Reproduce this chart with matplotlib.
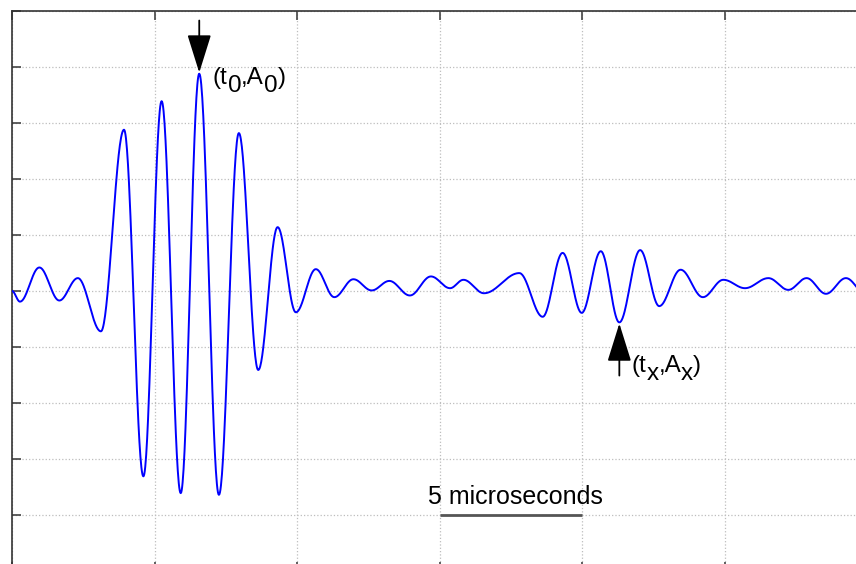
import numpy as np
import matplotlib
matplotlib.use("Agg")
import matplotlib.pyplot as plt
from matplotlib.transforms import offset_copy

plt.rcParams["font.family"] = ["Liberation Sans", "DejaVu Sans"]

# Received waveform: successive extrema (time in microseconds, amplitude)
t_ext = [0.00, 0.28, 0.96, 1.66, 2.31, 3.12, 3.93, 4.61, 5.25, 5.92,
         6.57, 7.26, 7.96, 8.64, 9.32, 9.96, 10.66, 11.31, 11.98, 12.62,
         13.24, 13.96, 14.70, 15.37, 15.84, 16.56, 17.80, 18.62, 19.32, 19.99,
         20.66, 21.31, 22.04, 22.71, 23.46, 24.24, 24.96, 25.72, 26.54, 27.24,
         27.88, 28.56, 29.26, 29.95]
a_ext = [0.00, -0.19, 0.42, -0.17, 0.23, -0.72, 2.88, -3.31, 3.39, -3.61,
         3.88, -3.64, 2.82, -1.41, 1.14, -0.38, 0.39, -0.11, 0.21, 0.01,
         0.18, -0.08, 0.26, 0.05, 0.20, -0.04, 0.32, -0.46, 0.68, -0.39,
         0.71, -0.56, 0.73, -0.27, 0.38, -0.11, 0.20, 0.05, 0.23, 0.02,
         0.23, -0.05, 0.23, -0.05]

# Marked echoes: main peak (t0, A0) and later trough (tx, Ax)
i_main = 10
i_echo = 31

# Scale bar
bar_start, bar_len, bar_level = 15.0, 5.0, -4.0
bar_label = "5 microseconds"

# Smooth half-cosine segments between consecutive extrema
t_ext_arr = np.asarray(t_ext)
a_ext_arr = np.asarray(a_ext)
seg_t, seg_a = [], []
s = np.linspace(0.0, 1.0, 40)
w = (1 - np.cos(np.pi * s)) / 2
for k in range(len(t_ext_arr) - 1):
    seg_t.append(t_ext_arr[k] + (t_ext_arr[k + 1] - t_ext_arr[k]) * s)
    seg_a.append(a_ext_arr[k] + (a_ext_arr[k + 1] - a_ext_arr[k]) * w)
t_curve = np.concatenate(seg_t)
a_curve = np.concatenate(seg_a)

fig = plt.figure(figsize=(8.56, 5.64), dpi=100)
ax = fig.add_axes([12 / 856, -7 / 564, 855 / 856, 560 / 564])

ax.plot(t_curve, a_curve, color=(0.0, 0.0, 1.0), lw=1.4, zorder=3)

ax.set_xlim(0, 30)
ax.set_ylim(-5, 5)
ax.set_xticks(np.arange(0, 31, 5))
ax.set_yticks(np.arange(-5, 6, 1))
ax.set_xticklabels([])
ax.set_yticklabels([])
ax.tick_params(direction="in", length=6.5, width=1.2, color="#444444",
               top=True, right=True, bottom=True, left=True)
ax.grid(True, linestyle=":", color="#bdbdbd", lw=0.9)
for sp in ax.spines.values():
    sp.set_color("#333333")
    sp.set_linewidth(1.2)

arrow_kw = dict(arrowstyle="-|>,head_length=1.6,head_width=0.5",
                mutation_scale=15, color="black", lw=1.3,
                shrinkA=0, shrinkB=0)

renderer = fig.canvas.get_renderer()


def label_with_subscripts(x, y, pieces, size):
    """Write text pieces side by side; each piece has its own downward shift (pixels)."""
    dx = 0.0
    for txt, drop in pieces:
        tr = offset_copy(ax.transData, fig=fig, x=dx, y=-drop, units="dots")
        t = ax.text(x, y, txt, fontsize=size, ha="left", va="baseline",
                    transform=tr)
        dx += t.get_window_extent(renderer).width


# Arrow and label at the main peak
t0, A0 = t_ext[i_main], a_ext[i_main]
ax.annotate("", xy=(t0, A0 + 0.02), xytext=(t0, 4.83), arrowprops=arrow_kw)
label_with_subscripts(7.05, 3.70,
                      [("(t", 0), ("0", 8), (",A", 0), ("0", 8), (")", 0)], 17.5)

# Arrow and label at the later echo
tx, Ax = t_ext[i_echo], a_ext[i_echo]
ax.annotate("", xy=(tx, Ax - 0.02), xytext=(tx, -1.51), arrowprops=arrow_kw)
label_with_subscripts(21.74, -1.45,
                      [("(t", 0), ("x", 8), (",A", 0), ("x", 8), (")", 0)], 17.5)

# Time scale bar
ax.plot([bar_start, bar_start + bar_len], [bar_level, bar_level],
        color="#555555", lw=2.0, solid_capstyle="butt", zorder=3)
ax.text(bar_start + bar_len / 2 + 0.15, -3.8, bar_label, fontsize=18,
        ha="center", va="baseline")

fig.savefig("out.png", dpi=100)
